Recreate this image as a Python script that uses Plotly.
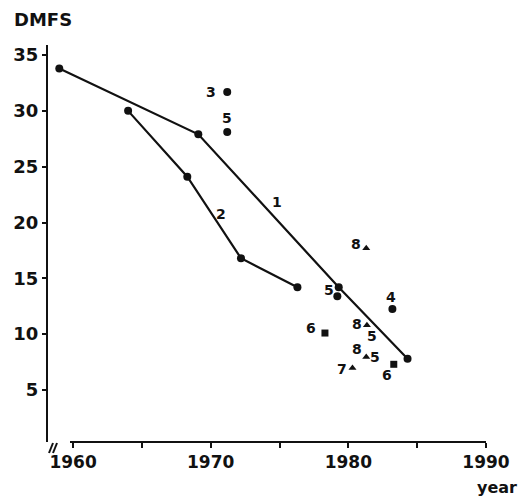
import plotly.graph_objects as go

# Study line 1
line1_year = [1959, 1969.1, 1979.3, 1984.3]
line1_dmfs = [33.8, 27.9, 14.2, 7.8]
# Study line 2
line2_year = [1964.0, 1968.3, 1972.2, 1976.3]
line2_dmfs = [30.0, 24.1, 16.8, 14.2]

# Isolated studies: circles
circ_year = [1971.2, 1971.2, 1979.2, 1983.2]
circ_dmfs = [31.7, 28.1, 13.4, 12.25]
# triangles
tri_year = [1981.3, 1981.35, 1981.3, 1980.3]
tri_dmfs = [17.7, 10.8, 7.95, 6.97]
# squares
sq_year = [1978.3, 1983.3]
sq_dmfs = [10.1, 7.3]

# study number labels
lab_text = ["3", "5", "1", "2", "8", "5", "4", "6", "8", "5", "8", "5", "7", "6"]
lab_year = [1970.0, 1971.2, 1974.8, 1970.75, 1980.55, 1978.6, 1983.1, 1977.3,
            1980.6, 1981.7, 1980.6, 1981.9, 1979.55, 1982.8]
lab_dmfs = [31.7, 29.4, 21.8, 20.8, 18.1, 14.0, 13.3, 10.55,
            10.9, 9.8, 8.65, 7.95, 6.9, 6.35]

y_ticks = [5, 10, 15, 20, 25, 30, 35]
x_ticks = [1960, 1965, 1970, 1975, 1980, 1985, 1990]
x_ticktext = ["1960", "", "1970", "", "1980", "", "1990"]

FONT = "DejaVu Sans"
BLACK = "#111111"

fig = go.Figure()
for xs, ys in [(line1_year, line1_dmfs), (line2_year, line2_dmfs)]:
    fig.add_trace(go.Scatter(x=xs, y=ys, mode="lines+markers",
                             line=dict(color=BLACK, width=2.2),
                             marker=dict(color=BLACK, size=8, symbol="circle"),
                             showlegend=False, hoverinfo="skip"))
fig.add_trace(go.Scatter(x=circ_year, y=circ_dmfs, mode="markers",
                         marker=dict(color=BLACK, size=8, symbol="circle"),
                         showlegend=False))
fig.add_trace(go.Scatter(x=tri_year, y=tri_dmfs, mode="markers",
                         marker=dict(color=BLACK, size=7, symbol="triangle-up"),
                         showlegend=False))
fig.add_trace(go.Scatter(x=sq_year, y=sq_dmfs, mode="markers",
                         marker=dict(color=BLACK, size=7, symbol="square"),
                         showlegend=False))

annotations = []
for t, xv, yv in zip(lab_text, lab_year, lab_dmfs):
    annotations.append(dict(x=xv, y=yv, text=t, showarrow=False,
                            font=dict(family=FONT, size=14, color=BLACK, weight="bold")))

# plot area in page pixels: x 48..486, y 45..442 (page has an 8px body margin)
def px(p):
    return (p - 48) / 438.0
def py(p):
    return (442 - p) / 397.0

annotations.append(dict(xref="paper", yref="paper", x=px(42.5), y=py(19.5), text="DMFS",
                        showarrow=False, xanchor="center", yanchor="middle",
                        font=dict(family=FONT, size=18, color=BLACK, weight="bold")))
annotations.append(dict(xref="paper", yref="paper", x=px(497), y=py(487), text="year",
                        showarrow=False, xanchor="center", yanchor="middle",
                        font=dict(family=FONT, size=16, color=BLACK, weight="bold")))

shapes = [
    dict(type="line", xref="paper", yref="paper", x0=px(70), x1=px(486), y0=0, y1=0,
         line=dict(color=BLACK, width=2.2)),
    dict(type="line", xref="paper", yref="paper", x0=px(49), x1=px(53), y0=py(453), y1=py(443),
         line=dict(color=BLACK, width=2)),
    dict(type="line", xref="paper", yref="paper", x0=px(53), x1=px(57), y0=py(453), y1=py(443),
         line=dict(color=BLACK, width=2)),
]

fig.update_layout(
    width=520, height=493,
    margin=dict(l=40, r=42, t=37, b=59),
    plot_bgcolor="white", paper_bgcolor="white",
    annotations=annotations, shapes=shapes,
    xaxis=dict(range=[1958.18, 1990], tickvals=x_ticks, ticktext=x_ticktext,
               ticks="outside", ticklen=5, tickwidth=2, tickcolor=BLACK,
               showline=False, showgrid=False, zeroline=False, automargin=False,
               tickfont=dict(family=FONT, size=17, color=BLACK, weight="bold")),
    yaxis=dict(range=[0.34, 35.9], tickvals=y_ticks,
               ticks="outside", ticklen=4, tickwidth=2, tickcolor=BLACK,
               showline=True, linecolor=BLACK, linewidth=2.2,
               showgrid=False, zeroline=False, automargin=False,
               tickfont=dict(family=FONT, size=18, color=BLACK, weight="bold")),
)

fig.write_html("out.html")
